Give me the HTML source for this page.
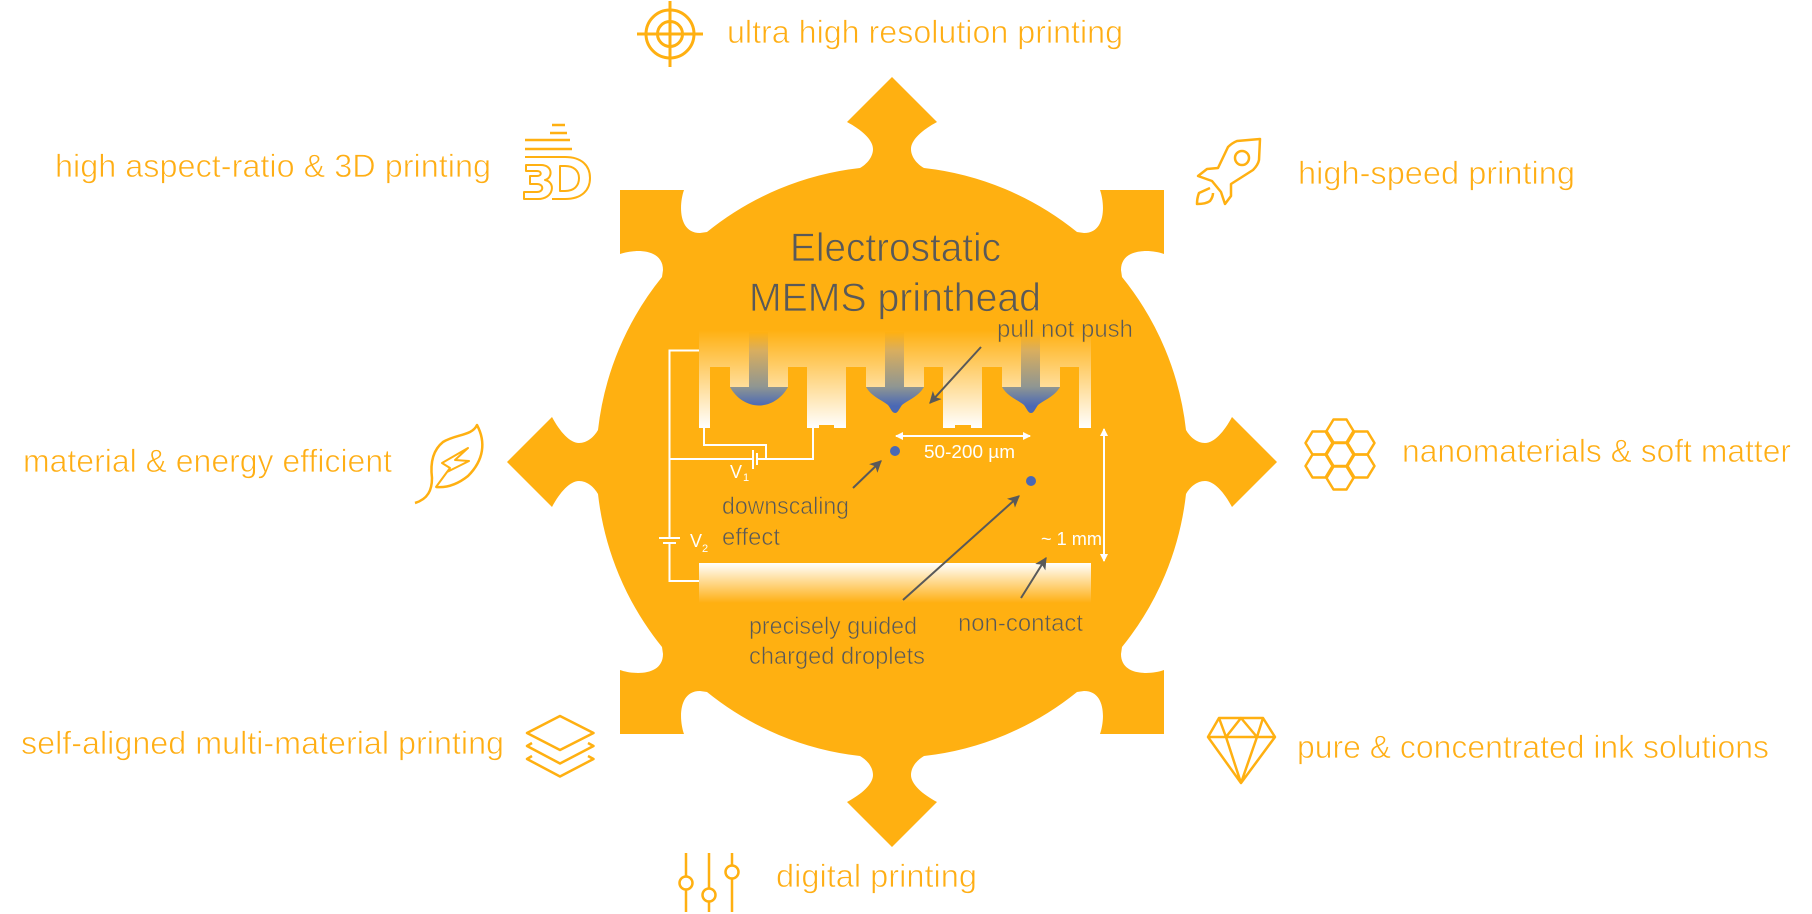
<!DOCTYPE html>
<html><head><meta charset="utf-8"><style>
html,body{margin:0;padding:0;background:#fff;width:1812px;height:914px;overflow:hidden}
svg{display:block}
text{font-family:"Liberation Sans",sans-serif}
.o{fill:#ffae14;font-size:32px;stroke:#fff;stroke-width:.7}
.d{fill:#595959;font-size:24px;stroke:#ffb011;stroke-width:.6}
.t{fill:#595959;font-size:40px;stroke:#ffb011;stroke-width:.8}
.w{fill:#fff;font-size:18px}
.i{fill:none;stroke:#ffb011;stroke-width:2.5;stroke-linejoin:round}
.wire{fill:none;stroke:#fff;stroke-width:2}
.ar{stroke:#595959;stroke-width:2;fill:none}
</style></head><body>
<svg width="1812" height="914" viewBox="0 0 1812 914" xmlns="http://www.w3.org/2000/svg">
<defs>
<linearGradient id="gt" gradientUnits="userSpaceOnUse" x1="0" y1="330" x2="0" y2="428"><stop offset="0" stop-color="#fff" stop-opacity="0"/><stop offset="1" stop-color="#fff"/></linearGradient>
<linearGradient id="gb" gradientUnits="userSpaceOnUse" x1="0" y1="563" x2="0" y2="603"><stop offset="0" stop-color="#fff"/><stop offset="1" stop-color="#fff" stop-opacity="0"/></linearGradient>
<linearGradient id="ink" gradientUnits="userSpaceOnUse" x1="0" y1="332" x2="0" y2="406"><stop offset="0" stop-color="#ffb011"/><stop offset=".25" stop-color="#d9ae5e"/><stop offset=".74" stop-color="#8f9692"/><stop offset="1" stop-color="#4a68b5"/></linearGradient>
<marker id="ah" viewBox="0 0 10 10" refX="9" refY="5" markerWidth="6" markerHeight="6" orient="auto"><path d="M0 0L10 5L0 10L2.5 5Z" fill="#595959"/></marker>
<path id="hx" d="M-13.5 0L-6.5-11.5H6.5L13.5 0L6.5 11.5H-6.5Z"/>
</defs>
<path transform="translate(892,462)" fill="#ffb011" d="M-32-294C-25-298-19-305-19-313C-19-322-30-332-45-340L0-385L45-340C30-332 19-322 19-313C19-305 25-298 32-294A295 295 0 0 1 185-230L192-229C214-229 213-258 208-272L272-272L272-208C258-213 229-214 229-192L230-185A295 295 0 0 1 294-32C298-25 305-19 313-19C322-19 332-30 340-45L385 0L340 45C332 30 322 19 313 19C305 19 298 25 294 32A295 295 0 0 1 230 185L229 192C229 214 258 213 272 208L272 272L208 272C213 258 214 229 192 229L185 230A295 295 0 0 1 32 294C25 298 19 305 19 313C19 322 30 332 45 340L0 385L-45 340C-30 332-19 322-19 313C-19 305-25 298-32 294A295 295 0 0 1-185 230L-192 229C-214 229-213 258-208 272L-272 272L-272 208C-258 213-229 214-229 192L-230 185A295 295 0 0 1-294 32C-298 25-305 19-313 19C-322 19-332 30-340 45L-385 0L-340-45C-332-30-322-19-313-19C-305-19-298-25-294-32A295 295 0 0 1-230-185L-229-192C-229-214-258-213-272-208L-272-272L-208-272C-213-258-214-229-192-229L-185-230A295 295 0 0 1-32-294Z"/>

<!-- printhead -->
<rect x="699" y="330" width="392" height="98" fill="url(#gt)"/>
<g fill="#ffb011">
<path d="M710 367H730V387H788V367H807V428H710Z"/>
<path d="M846 367H866V387H924V367H943V428H846Z"/>
<path d="M982 367H1002V387H1060V367H1079V428H982Z"/>
<rect x="819" y="425" width="15" height="4"/>
<rect x="955" y="425" width="16" height="4"/>
</g>
<path fill="url(#ink)" d="M749 332H768V387H788C782 398 771 405.500 759 405.500C747 405.500 736 398 730 387H749Z"/>
<path fill="url(#ink)" d="M885 332H904V387H924C918 397 908 400 902 405C899 409 898 413 895 413C892 413 891 409 888 405C882 400 872 397 866 387H885Z"/>
<path fill="url(#ink)" d="M1021 332H1040V387H1060C1054 397 1044 400 1038 405C1035 409 1034 413 1031 413C1028 413 1027 409 1024 405C1018 400 1008 397 1002 387H1021Z"/>
<rect x="699" y="563" width="392" height="40" fill="url(#gb)"/>

<!-- wires -->
<path class="wire" d="M699 350.5H669.5V538M669.5 543V581H699M659 538H680M663 543H676M669.5 459H753M757 459H813V428M704 428V445H766V459M753 450V469M757 453V465"/>
<circle cx="895" cy="451" r="5" fill="#4a68b5"/>
<circle cx="1031" cy="481" r="5" fill="#4a68b5"/>
<g fill="#fff">
<path d="M896 436H1030" stroke="#fff" stroke-width="2"/>
<path d="M895 436L903 432V440Z"/><path d="M1031 436L1023 432V440Z"/>
<path d="M1104 429V561" stroke="#fff" stroke-width="2"/>
<path d="M1104 428L1100 436H1108Z"/><path d="M1104 562L1100 554H1108Z"/>
</g>
<text class="w" x="924" y="458" textLength="91" lengthAdjust="spacingAndGlyphs">50-200 µm</text>
<text class="w" x="1041" y="545" textLength="61" lengthAdjust="spacingAndGlyphs">~ 1 mm</text>
<text class="w" x="730" y="478">V</text><text class="w" x="743" y="481" style="font-size:11px">1</text>
<text class="w" x="690" y="547">V</text><text class="w" x="702" y="552" style="font-size:11px">2</text>

<!-- dark arrows -->
<g class="ar">
<path d="M981 347L930 403" marker-end="url(#ah)"/>
<path d="M853 488L881 461" marker-end="url(#ah)"/>
<path d="M903 600L1019 496" marker-end="url(#ah)"/>
<path d="M1021 598L1046 558" marker-end="url(#ah)"/>
</g>

<!-- dark text -->
<text class="t" x="790" y="261" textLength="211" lengthAdjust="spacingAndGlyphs">Electrostatic</text>
<text class="t" x="749" y="311" textLength="292" lengthAdjust="spacingAndGlyphs">MEMS printhead</text>
<text class="d" x="997" y="337" textLength="136" lengthAdjust="spacingAndGlyphs">pull not push</text>
<text class="d" x="722" y="514" textLength="127" lengthAdjust="spacingAndGlyphs">downscaling</text>
<text class="d" x="722" y="545" textLength="58" lengthAdjust="spacingAndGlyphs">effect</text>
<text class="d" x="749" y="634" textLength="168" lengthAdjust="spacingAndGlyphs">precisely guided</text>
<text class="d" x="749" y="664" textLength="176" lengthAdjust="spacingAndGlyphs">charged droplets</text>
<text class="d" x="958" y="631" textLength="125" lengthAdjust="spacingAndGlyphs">non-contact</text>

<!-- orange labels -->
<text class="o" x="727" y="43" textLength="396" lengthAdjust="spacingAndGlyphs">ultra high resolution printing</text>
<text class="o" x="55" y="177" textLength="436" lengthAdjust="spacingAndGlyphs">high aspect-ratio &amp; 3D printing</text>
<text class="o" x="1298" y="184" textLength="277" lengthAdjust="spacingAndGlyphs">high-speed printing</text>
<text class="o" x="23" y="472" textLength="369" lengthAdjust="spacingAndGlyphs">material &amp; energy efficient</text>
<text class="o" x="1402" y="462" textLength="389" lengthAdjust="spacingAndGlyphs">nanomaterials &amp; soft matter</text>
<text class="o" x="21" y="754" textLength="483" lengthAdjust="spacingAndGlyphs">self-aligned multi-material printing</text>
<text class="o" x="1297" y="758" textLength="472" lengthAdjust="spacingAndGlyphs">pure &amp; concentrated ink solutions</text>
<text class="o" x="776" y="887" textLength="201" lengthAdjust="spacingAndGlyphs">digital printing</text>

<!-- icons -->
<g class="i">
<g stroke-width="3"><circle cx="670" cy="34" r="24"/><circle cx="670" cy="34" r="12.500"/>
<path d="M637 34H703M670 1V67"/></g>
<path d="M552 125H565M550 133H567M525 140H570M525 149H572" />
<path d="M525 157H565C582 157 590 166 590 178C590 190 582 199 565 199H552" stroke-width="2"/>
<path d="M560 166H565C574 166 579 171 579 178C579 186 574 191 565 191H560Z" stroke-width="2"/>
<path d="M526 165H541C553 165 553 178 545 180C556 182 554 199 538 199H524V192H537C544 192 544 184 537 184H530V176H537C542 176 542 171 537 171H526Z" stroke-width="2"/>
<path d="M415 503C428 499 432 490 432 478C430 462 433 450 443 442C456 434 472 436 477 425C486 442 484 460 468 476C458 484 447 488 436 487"/>
<path d="M436 487L450 468L442 463L468 448L455 460L469 461L447 472Z" stroke-width="2"/>
<path d="M1260 139L1237 141Q1232 143 1228 147L1218 168L1207 169L1198 176L1212 181L1221 192L1225 204L1231 196V184L1253 170Q1258 165 1259 160Z"/>
<circle cx="1242" cy="158" r="7"/>
<path d="M1210 188L1199 193Q1197 198 1197 204Q1206 204 1210 201Q1213 197 1213 193"/>
<use href="#hx" x="1340" y="454.500"/><use href="#hx" x="1340" y="431"/><use href="#hx" x="1340" y="478"/>
<use href="#hx" x="1319" y="443"/><use href="#hx" x="1319" y="466"/>
<use href="#hx" x="1361" y="443"/><use href="#hx" x="1361" y="466"/>
<path d="M560 716L593.5 733L560 750L527 733Z"/>
<path d="M532 743L527 746L560 763.5L593.5 746L588 743M532 756L527 759L560 776.5L593.5 759L588 756"/>
<path d="M1219 718H1263L1275 737L1241 783L1208 737ZM1208 737H1275M1219 718L1226 737L1241 783L1257 737L1263 718M1226 737L1241 718L1257 737"/>
<path d="M686 853V876M686 890V912M709 853V888M709 902V912M732 853V865M732 879V912"/>
<circle cx="686" cy="883" r="6.5"/><circle cx="709" cy="895" r="6.5"/><circle cx="732" cy="872" r="6.5"/>
</g>
</svg>
</body></html>
